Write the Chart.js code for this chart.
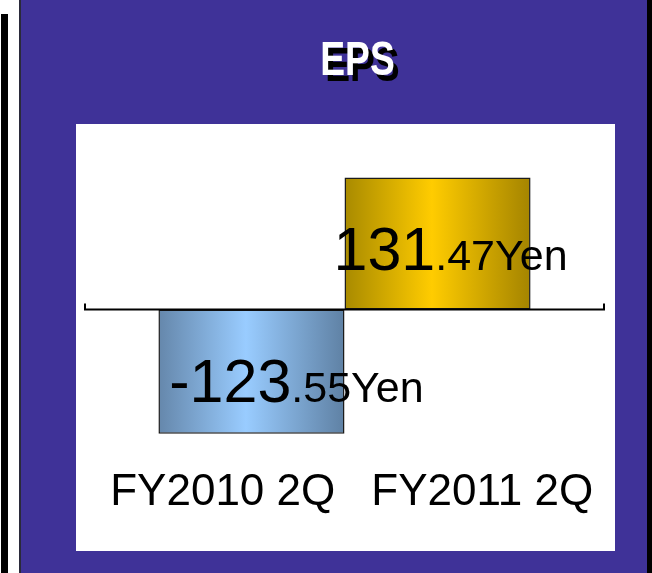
<!DOCTYPE html>
<html>
<head>
<meta charset="utf-8">
<script src="https://cdn.jsdelivr.net/npm/chart.js@4/dist/chart.umd.min.js"></script>
<style>
  html, body { margin: 0; padding: 0; background: #3F3298; }
  #wrap { width: 652px; height: 573px; }
</style>
</head>
<body>
<div id="wrap"><canvas id="c" width="652" height="573"></canvas></div>
<script>
// ---- data ----
const title = 'EPS';
const categories = ['FY2010 2Q', 'FY2011 2Q'];
const epsYen = [-123.55, 131.47];
const unit = 'Yen';
const yMin = -140;
const yMax = 140;

// ---- styles ----
const FONT = "'Liberation Sans', Arial, sans-serif";
const PURPLE = '#3F3298';
const gradStops = [
  [[0, '#6587AB'], [0.47, '#99CCFF'], [1, '#5F81A4']],
  [[0, '#A88A00'], [0.47, '#FFCC00'], [1, '#A48400']]
];
const CAT_PCT = 0.717;

function barGradient(i) {
  return function (ctx) {
    const chart = ctx.chart;
    const s = chart.scales.xBars;
    if (!s || !chart.chartArea) return gradStops[i][1][1];
    const full = s.width * CAT_PCT;
    const left = s.getPixelForValue(0) - full / 2 + i * full / categories.length;
    const right = left + full / categories.length;
    const g = chart.ctx.createLinearGradient(left, 0, right, 0);
    gradStops[i].forEach(([o, c]) => g.addColorStop(o, c));
    return g;
  };
}

const bgPlugin = {
  id: 'bg',
  beforeDraw(chart) {
    const c = chart.ctx;
    c.save();
    c.fillStyle = PURPLE;
    c.fillRect(0, 0, chart.width, chart.height);
    // left frame strips
    c.fillStyle = '#FFFFFF';
    c.fillRect(0, 0, 19, chart.height);
    c.fillStyle = '#000000';
    c.fillRect(1, 14, 7, chart.height - 14);
    c.fillStyle = '#2a2a3a';
    c.fillRect(19, 0, 2, chart.height);
    // right black strip
    c.fillStyle = '#000000';
    c.fillRect(647, 0, 5, chart.height);
    // white panel
    c.fillStyle = '#FFFFFF';
    c.fillRect(76, 124, 539, 427);
    // title with shadow, condensed
    const ca = chart.chartArea;
    const cx = (ca.left + ca.right) / 2 + 13;
    c.font = 'bold 49px ' + FONT;
    c.textAlign = 'center';
    c.textBaseline = 'alphabetic';
    c.translate(cx, 75);
    c.scale(0.76, 1);
    c.fillStyle = '#000000';
    c.fillText(title, 6.5, 6);
    c.fillStyle = '#FFFFFF';
    c.fillText(title, 0, 0);
    c.restore();
  }
};

const zeroLine = {
  id: 'zeroLine',
  afterDatasetsDraw(chart) {
    const c = chart.ctx;
    const ca = chart.chartArea;
    const y0 = chart.scales.y.getPixelForValue(0);
    c.save();
    c.strokeStyle = '#000000';
    c.lineWidth = 2;
    c.beginPath();
    c.moveTo(ca.left, y0 - 6);
    c.lineTo(ca.left, y0);
    c.lineTo(ca.right, y0);
    c.lineTo(ca.right, y0 - 6);
    c.stroke();
    c.restore();
  }
};

const valueLabels = {
  id: 'valueLabels',
  afterDatasetsDraw(chart) {
    const c = chart.ctx;
    c.save();
    c.fillStyle = '#000000';
    c.textBaseline = 'alphabetic';
    c.textAlign = 'left';
    chart.data.datasets.forEach((ds, i) => {
      const el = chart.getDatasetMeta(i).data[0];
      const v = ds.data[0];
      const parts = v.toFixed(2).split('.');
      const big = parts[0];
      const small = '.' + parts[1] + unit;
      c.font = '61px ' + FONT;
      const wb = c.measureText(big).width;
      c.font = '43px ' + FONT;
      const ws = c.measureText(small).width;
      const total = wb + ws;
      let cx, baseY;
      if (v < 0) {
        cx = el.x + 45;
        baseY = el.y - 32;
      } else {
        cx = el.x + 13;
        baseY = el.base - 40;
      }
      const x0 = cx - total / 2;
      c.font = '61px ' + FONT;
      c.fillText(big, x0, baseY);
      c.font = '43px ' + FONT;
      c.fillText(small, x0 + wb, baseY);
    });
    c.restore();
  }
};

new Chart(document.getElementById('c'), {
  type: 'bar',
  data: {
    labels: [title],
    datasets: categories.map((cat, i) => ({
      label: cat,
      data: [epsYen[i]],
      xAxisID: 'xBars',
      backgroundColor: barGradient(i),
      borderColor: '#1c1c1c',
      borderWidth: 1.5,
      borderSkipped: false,
      categoryPercentage: CAT_PCT,
      barPercentage: 1
    }))
  },
  options: {
    responsive: false,
    animation: false,
    devicePixelRatio: 1,
    layout: { padding: { left: 85, right: 48, top: 169, bottom: 38 } },
    plugins: { legend: { display: false }, tooltip: { enabled: false }, title: { display: false } },
    scales: {
      xBars: { type: 'category', labels: [title], display: false, offset: true },
      x: {
        type: 'category',
        labels: categories,
        position: 'bottom',
        offset: true,
        grid: { display: false, drawTicks: false },
        border: { display: false },
        ticks: {
          font: { family: FONT, size: 44 },
          color: '#000000',
          padding: 16,
          maxRotation: 0,
          autoSkip: false,
          labelOffset: 8
        }
      },
      y: { display: false, min: yMin, max: yMax }
    }
  },
  plugins: [bgPlugin, zeroLine, valueLabels]
});
</script>
</body>
</html>
